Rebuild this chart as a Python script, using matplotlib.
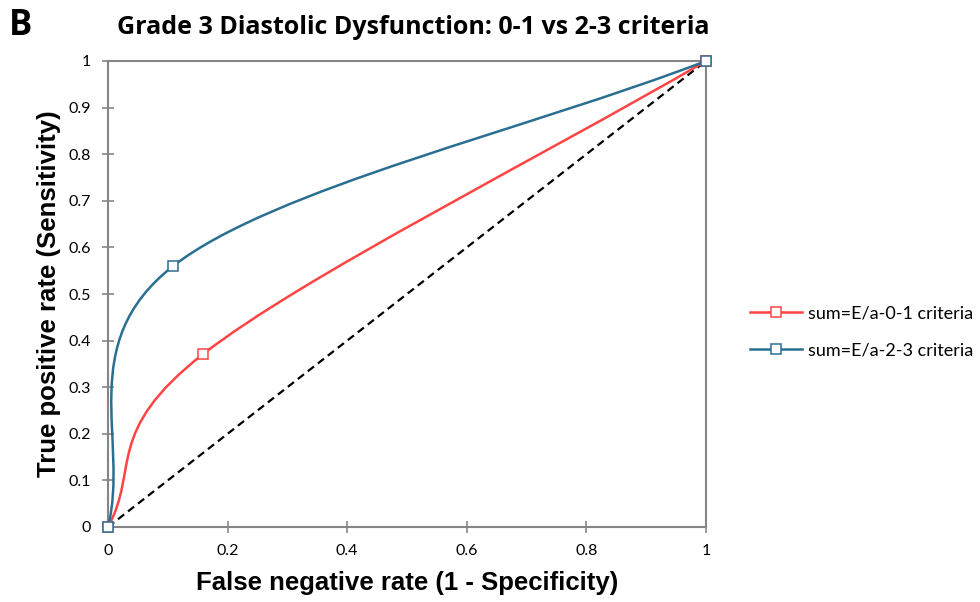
import numpy as np
import matplotlib
matplotlib.use('Agg')
import matplotlib.pyplot as plt
from matplotlib.path import Path
from matplotlib.patches import PathPatch
from matplotlib.lines import Line2D

# -- data --------------------------------------------------------------------
fpr_01  = [0.0, 0.159, 1.0]
tpr_01  = [0.0, 0.371, 1.0]
fpr_23  = [0.0, 0.109, 1.0]
tpr_23  = [0.0, 0.560, 1.0]
labels  = ['sum=E/a-0-1 criteria', 'sum=E/a-2-3 criteria']
ticks   = [0, 0.1, 0.2, 0.3, 0.4, 0.5, 0.6, 0.7, 0.8, 0.9, 1]
xticks  = [0, 0.2, 0.4, 0.6, 0.8, 1]

RED  = '#FF4444'
BLUE = '#2A6F91'
GREY = '#868686'

# axes box in pixels (smoothing is done in screen space, like Excel does)
AX_W, AX_H = 598.0, 466.0


def _smooth_path(xs, ys):
    """Excel-like smoothed line: Catmull-Rom style cubic Bezier, tension 1/6."""
    p = np.column_stack([np.asarray(xs) * AX_W, np.asarray(ys) * AX_H])
    n = len(p)
    # reflect the end points to get a neighbour for the tangent
    ext = np.vstack([2 * p[0] - p[1], p, 2 * p[-1] - p[-2]])
    tang = (ext[2:] - ext[:-2]) / 6.0
    verts, codes = [p[0]], [Path.MOVETO]
    for i in range(n - 1):
        verts += [p[i] + tang[i], p[i + 1] - tang[i + 1], p[i + 1]]
        codes += [Path.CURVE4] * 3
    verts = np.array(verts) / [AX_W, AX_H]
    return Path(verts, codes)


fig = plt.figure(figsize=(9.8, 6.02), dpi=100)
ax = fig.add_axes([108 / 980, 75 / 602, 598 / 980, 466 / 602])

ax.plot([0, 1], [0, 1], color='black', lw=1.6, ls=(0, (3.5, 2.2)), zorder=2)

for xs, ys, col, lab in [(fpr_01, tpr_01, RED, labels[0]),
                         (fpr_23, tpr_23, BLUE, labels[1])]:
    ax.add_patch(PathPatch(_smooth_path(xs, ys), fill=False, edgecolor=col,
                           lw=1.8, zorder=3))
    ax.plot(xs, ys, ls='none', marker='s', ms=6.5, mfc='white', mec=col,
            mew=1.1, zorder=4, clip_on=False)

ax.set_xlim(0, 1)
ax.set_ylim(0, 1)
ax.set_xticks(xticks)
ax.set_yticks(ticks)
ax.set_xticklabels(['0', '0.2', '0.4', '0.6', '0.8', '1'])
ax.set_yticklabels(['0', '0.1', '0.2', '0.3', '0.4', '0.5', '0.6', '0.7',
                    '0.8', '0.9', '1'])
for s in ax.spines.values():
    s.set_color(GREY)
    s.set_linewidth(1.5)
ax.tick_params(direction='inout', length=9, width=1.2, color=GREY,
               labelsize=11.5, pad=8)
for t in ax.get_xticklabels() + ax.get_yticklabels():
    t.set_family(['Lato', 'DejaVu Sans'])

lab_font = dict(family=['Liberation Sans Narrow', 'Liberation Sans'],
                weight='bold', size=18.5)
ax.set_xlabel('False negative rate (1 - Specificity)', labelpad=9, **lab_font)
ax.set_ylabel('True positive rate (Sensitivity)', labelpad=5, **lab_font)

fig.text(117 / 980, 1 - 27 / 602, 'Grade 3 Diastolic Dysfunction: 0-1 vs 2-3 criteria',
         family=['Open Sans', 'DejaVu Sans'], weight='bold', size=18,
         ha='left', va='center')
fig.text(9 / 980, 1 - 26 / 602, 'B', family=['Open Sans', 'DejaVu Sans'],
         weight='bold', size=25, ha='left', va='center')

handles = [Line2D([], [], color=c, lw=1.8, marker='s', ms=6.5, mfc='white',
                  mec=c, mew=1.1) for c in (RED, BLUE)]
fig.legend(handles, labels, loc='center left',
           bbox_to_anchor=(750 / 980, 1 - 332 / 602), frameon=False,
           borderpad=0, borderaxespad=0,
           prop=dict(family=['Lato', 'DejaVu Sans'], size=13),
           handlelength=2.9, handletextpad=0.3, labelspacing=1.15)

fig.savefig('out.png', dpi=100)
